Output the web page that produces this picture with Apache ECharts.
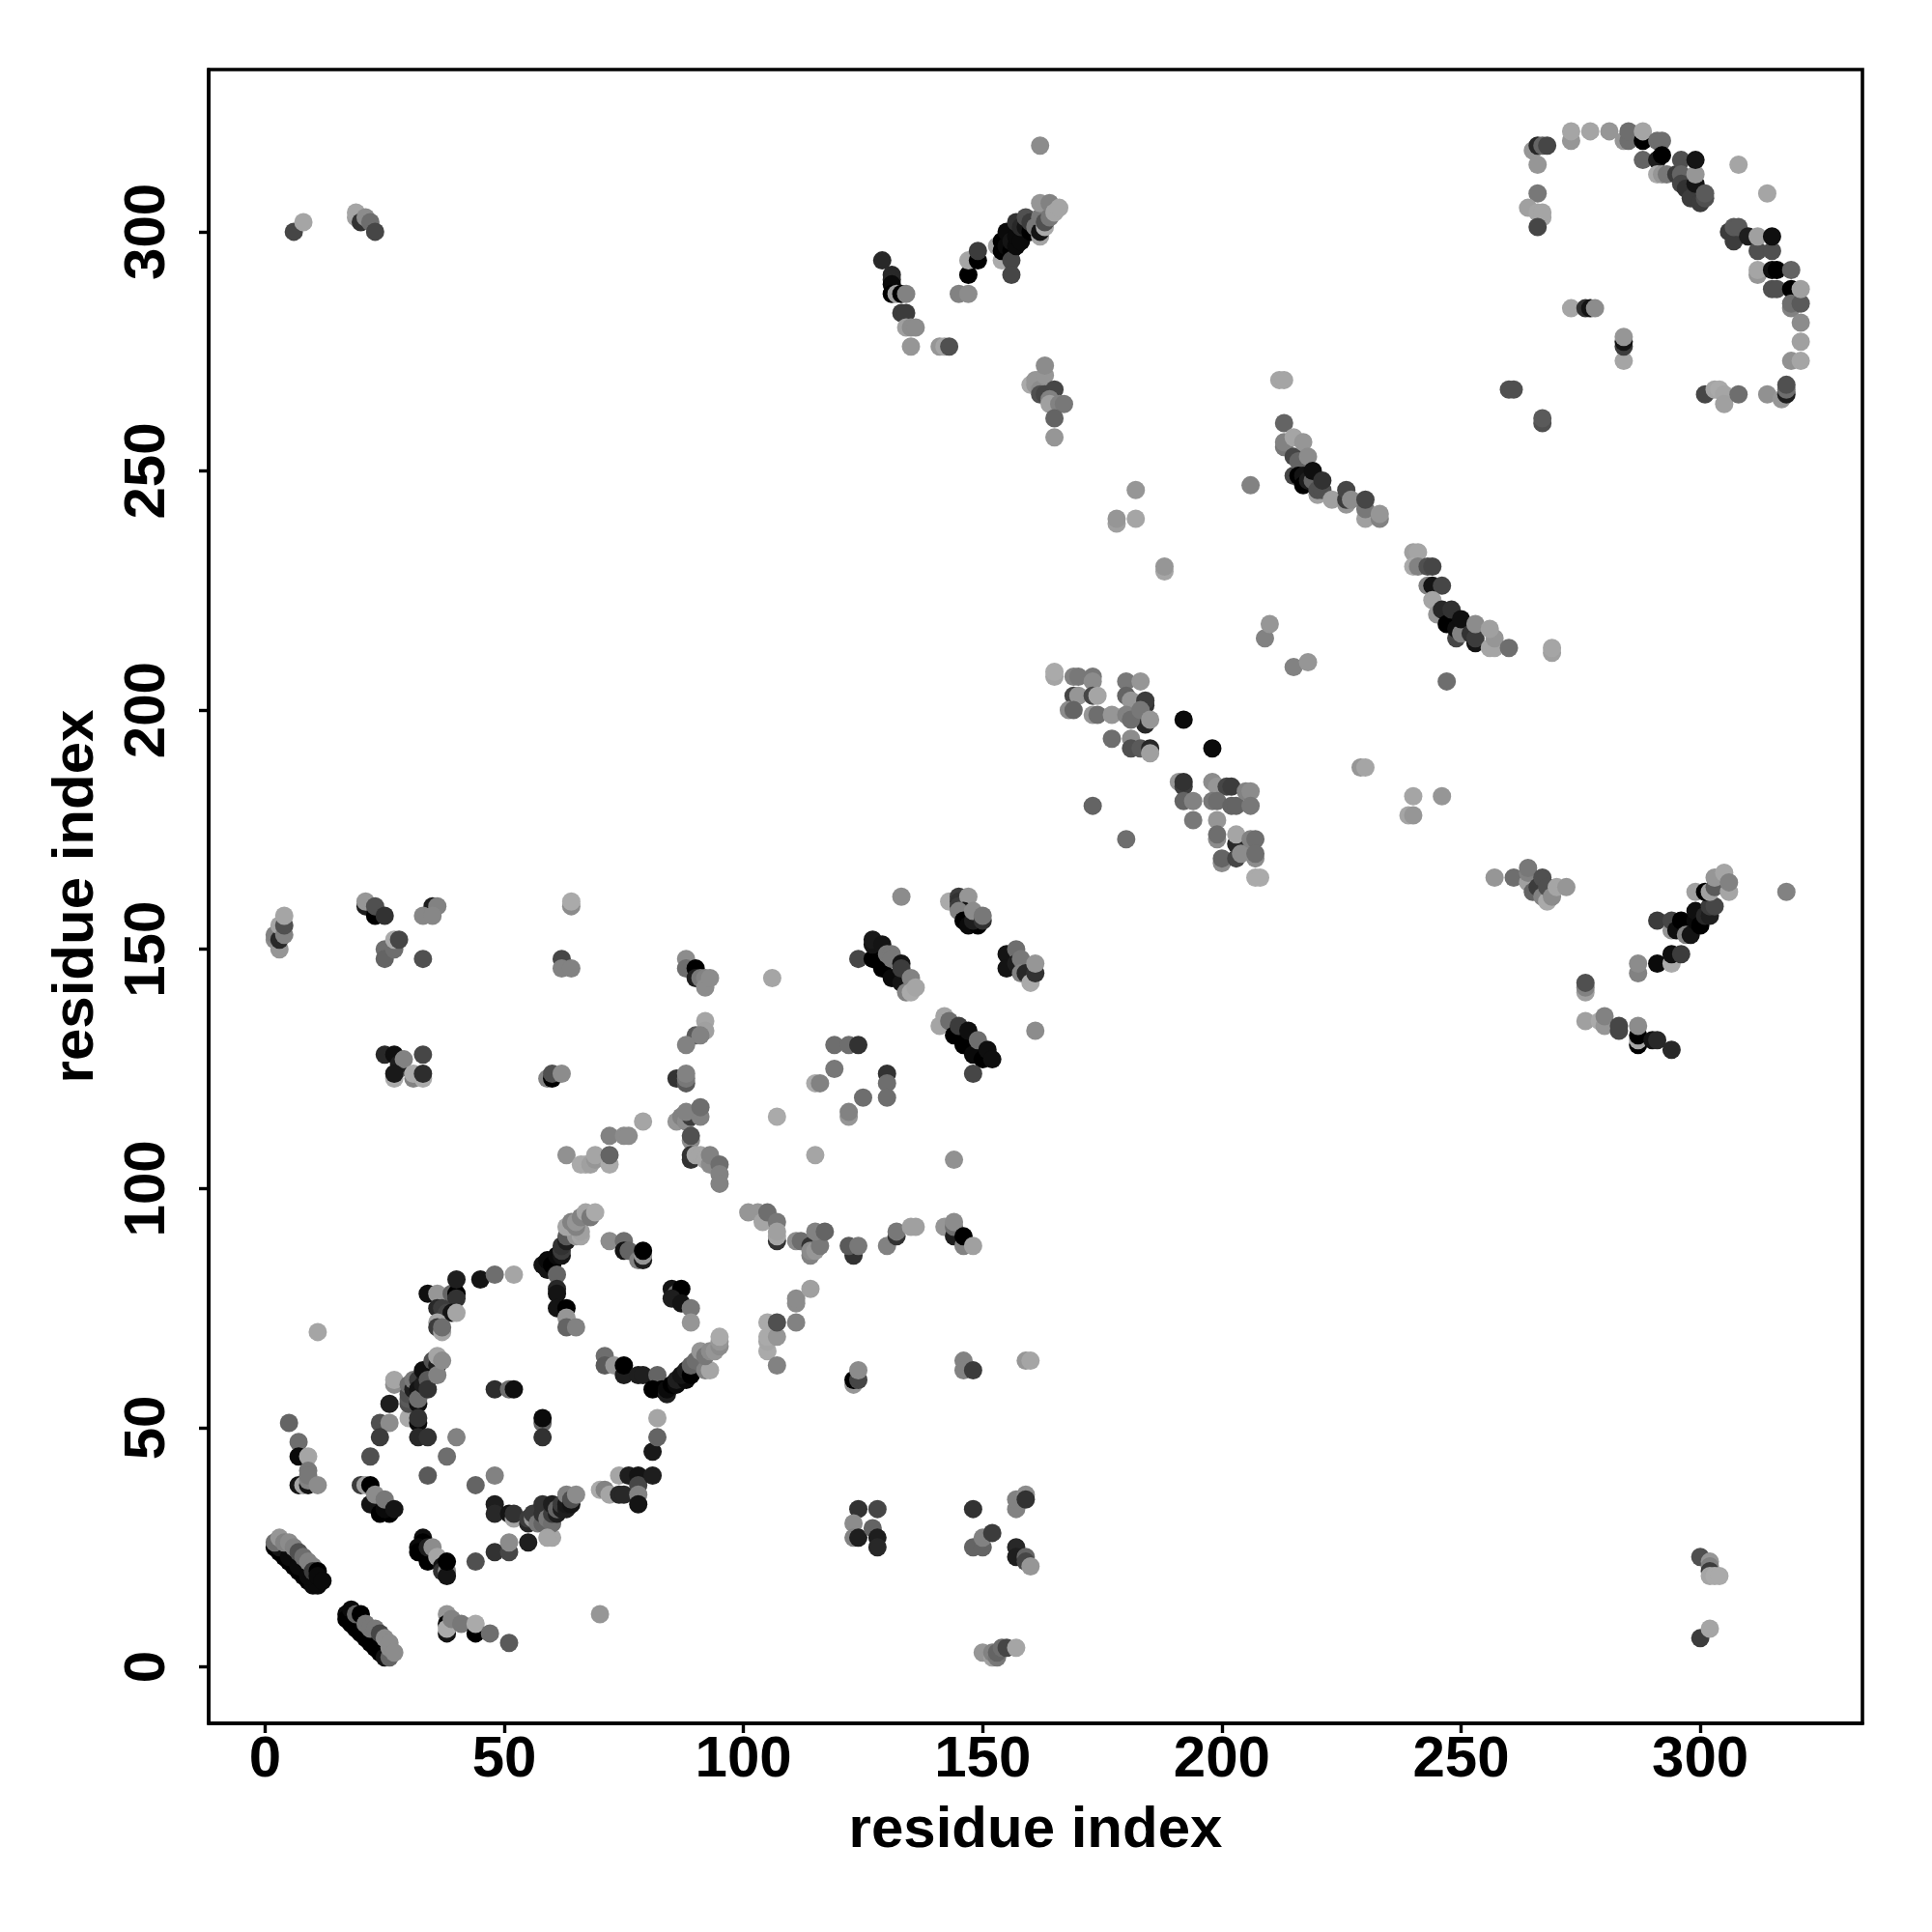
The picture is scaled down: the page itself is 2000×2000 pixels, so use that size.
<!DOCTYPE html>
<html><head><meta charset="utf-8"><style>html,body{margin:0;background:#fff}#c{width:2000px;height:2000px}</style>
<script src="https://cdn.jsdelivr.net/npm/echarts@6/dist/echarts.min.js"></script></head><body><div id="c"></div>
<script>
const tickValues=[0,50,100,150,200,250,300];
const axisTitle='residue index';
// each contact: [residue x, residue y, grey level]
const bandLow=[[2,25,0],[3,24,0],[4,23,0],[5,22,0],[6,21,0],[7,20,0],[8,19,0],[9,18,0],[10,17,10],[11,17,10],[3,25,20],[5,23,10],[7,21,10],[9,19,10],[2,26,110],[3,27,150],[4,26,130],[5,26,140],[6,25,130],[7,24,80],[8,23,110],[9,22,130],[10,21,130],[10,20,60],[11,20,0],[11,19,10],[12,18,10]];
const bandLowMirror=[[17,11,10],[17,10,0],[18,12,10],[18,9,0],[19,8,0],[20,7,0],[21,6,0],[22,5,0],[23,4,0],[24,3,0],[25,2,20],[19,11,100],[20,11,0],[21,9,120],[22,8,120],[23,8,120],[24,7,70],[25,6,140],[26,2,100],[26,4,140],[26,5,140],[27,3,140]];
const nearOrigin=[[38,11,150],[38,9,0],[38,7,20],[38,8,170],[39,10,130],[41,9,120],[44,7,0],[44,9,170],[47,7,110],[51,5,90],[70,11,150]];
const leftColumn=[[5,51,100],[7,47,110],[7,44,10],[9,44,165],[9,41,120],[7,38,20],[8,38,165],[9,38,20],[9,39,130],[9,40,120],[11,38,140],[11,70,165]];
const ringBottomLeft=[[20,38,60],[21,38,160],[22,38,0],[22,34,20],[24,34,20],[24,32,0],[26,32,0],[25,33,10],[23,36,140],[25,35,120],[27,33,20],[33,27,15],[33,26,0],[32,25,10],[32,24,0],[34,22,0],[34,25,30],[35,25,140],[36,23,165],[37,21,20],[37,20,50],[38,20,130],[38,19,20],[38,22,0],[44,22,80],[48,24,50],[51,24,70],[51,26,140],[55,26,30],[60,27,165]];
const ringInner=[[22,44,80],[24,51,80],[26,51,140],[24,48,60],[26,55,30],[34,40,90],[38,44,110],[40,48,130],[44,38,100],[48,40,130],[48,58,45],[51,58,110],[52,58,15],[58,51,100],[58,52,10],[58,48,50]];
const ringLeftArc=[[27,59,140],[27,60,165],[30,52,170],[30,55,80],[30,56,90],[30,57,80],[30,59,110],[31,58,30],[31,60,120],[32,60,60],[32,58,20],[32,55,15],[32,56,110],[32,51,10],[32,52,50],[32,48,40],[34,48,50],[33,59,30],[33,62,15],[34,60,90],[34,58,50],[35,64,80],[36,63,30],[36,61,130],[36,65,165],[37,64,140]];
const ringTopLeft=[[34,78,15],[36,78,150],[39,78,100],[40,78,0],[40,77,50],[40,81,30],[45,81,20],[48,82,110],[52,82,165],[36,75,40],[37,75,60],[38,74,70],[39,74,20],[40,74,165],[36,72,165],[36,71,60],[37,70,165],[37,71,110]];
const ringBottomChain=[[48,34,30],[48,32,40],[51,32,20],[52,31,165],[52,32,50],[55,30,40],[55,31,60],[56,31,150],[56,32,60],[57,30,120],[58,30,100],[58,32,50],[58,34,50],[59,31,120],[60,30,110],[60,32,60],[60,34,30],[61,32,30],[61,33,100],[62,33,30],[62,34,60],[63,33,30],[63,34,25],[63,36,130],[64,34,20],[64,35,80],[65,36,140],[59,27,165],[70,37,170],[71,37,130],[72,36,165],[74,36,40],[75,36,40],[74,40,165],[76,40,30],[78,40,20],[78,38,70],[78,36,130],[78,34,20],[81,40,30],[81,45,25],[82,48,100],[82,52,165]];
const ringTopRight=[[58,84,20],[59,83,20],[59,85,10],[60,84,0],[61,86,10],[62,86,20],[62,87,60],[62,88,50],[63,89,30],[63,90,90],[61,82,100],[61,79,40],[61,78,20],[61,75,20],[63,75,0],[63,73,150],[63,71,100],[65,71,130],[65,90,150],[66,90,165],[66,91,160],[63,92,165],[64,93,130],[65,92,130],[65,93,150],[66,94,130],[67,95,165],[68,94,120],[69,95,170]];
const ringSecond=[[72,89,140],[75,89,110],[75,87,20],[76,87,100],[78,85,130],[79,85,30],[79,86,150],[79,87,0],[85,79,20],[86,78,110],[87,79,0],[85,77,30],[87,76,20],[89,75,120],[89,72,150]];
const ringCurve=[[71,65,110],[71,63,90],[73,63,150],[75,61,30],[75,63,0],[78,61,30],[79,61,30],[82,61,100],[81,58,0],[83,58,0],[84,57,30],[84,58,10],[85,59,0],[86,59,10],[86,60,30],[88,60,10],[87,61,20],[88,62,30],[89,61,0],[89,63,100],[90,64,110],[91,66,150],[92,62,130],[93,62,165],[92,65,120],[93,66,140],[94,66,150],[95,67,140],[95,68,150],[95,69,170]];
const loopColumn=[[101,95,150],[103,95,150],[104,93,165],[105,95,110],[107,89,50],[107,93,120],[107,90,165],[107,91,160],[111,89,140],[112,89,110],[114,88,50],[114,86,130],[114,87,140],[115,87,150],[116,88,120],[115,91,130],[117,91,100],[123,86,50],[122,88,90],[124,88,120],[130,88,130],[132,90,50],[132,91,120],[135,92,160],[136,92,160],[142,92,150],[144,90,30],[144,92,110],[144,93,140],[146,88,130],[146,90,0],[148,88,160]];
const loopBelow=[[105,66,170],[105,68,165],[105,69,170],[105,72,170],[107,63,130],[107,69,150],[107,72,80],[111,72,130],[111,76,140],[111,77,140],[114,79,160],[123,59,150],[123,60,0],[124,60,70],[124,62,140],[146,64,130],[146,62,130],[148,62,60],[159,64,150],[160,64,165]];
const lowerBlocks=[[124,33,50],[128,33,70],[123,30,140],[123,27,130],[124,27,30],[127,29,100],[128,27,30],[128,25,40],[148,33,50],[148,25,100],[150,25,100],[150,27,130],[152,28,60],[157,25,40],[157,23,30],[159,23,100],[159,22,70],[160,21,150],[157,33,130],[157,35,130],[159,36,140],[159,35,50],[150,3,150],[152,2,160],[152,3,130],[153,2,120],[153,3,100],[154,4,110],[155,4,70],[157,4,165]];
const farCorners=[[300,23,80],[302,22,150],[302,21,130],[302,20,60],[302,19,165],[303,19,170],[304,19,170],[300,6,60],[302,8,165],[6,300,70],[8,302,165],[19,303,160],[19,304,165],[20,302,50],[21,303,140],[22,302,110],[23,300,70]];
const upperLeftGroups=[[2,152,140],[2,153,130],[3,150,150],[3,152,40],[3,155,165],[4,153,130],[4,155,80],[4,157,165],[21,159,30],[21,160,150],[23,157,0],[23,159,80],[25,157,50],[35,159,30],[36,159,130],[33,157,135],[35,157,135],[25,150,110],[25,148,100],[27,150,110],[27,152,170],[28,152,70],[33,148,80],[64,159,140],[64,160,170],[62,148,70],[62,146,130],[64,146,130]];
const midLeftGroups=[[25,128,40],[27,128,15],[28,125,100],[28,126,30],[29,127,130],[27,123,170],[27,124,25],[31,123,130],[31,124,170],[33,128,70],[33,123,170],[33,124,45],[59,123,130],[60,123,0],[60,124,80],[62,124,140]];
const midDiagonal=[[63,107,145],[66,105,170],[67,105,170],[68,105,160],[69,106,150],[69,107,165],[72,105,170],[72,107,100],[72,111,130],[75,111,140],[76,111,140],[79,114,165]];
const midColumn=[[88,148,140],[88,146,110],[90,146,0],[90,144,30],[91,144,120],[92,144,130],[92,142,140],[93,144,140],[92,135,165],[92,133,160],[90,132,90],[91,132,130],[88,130,130],[86,123,50],[88,122,90],[88,123,120],[88,124,130],[86,114,150],[87,115,130],[88,114,140],[89,115,60],[88,116,130],[91,115,130],[91,117,110],[89,110,140],[89,111,80],[89,107,50],[89,106,50],[90,107,165],[91,107,165],[92,106,165],[93,105,140],[93,107,130],[95,105,110],[95,103,130],[95,101,130]];
const midSingles=[[106,144,165],[107,115,170],[115,107,165],[144,106,145],[133,161,140],[161,133,140]];
const midCluster=[[119,130,110],[122,130,110],[124,130,50],[119,125,120],[115,122,170],[116,122,130],[125,119,110],[122,115,150],[122,116,130],[130,124,50],[130,122,110],[130,119,110]];
const strandA=[[124,148,70],[127,148,0],[129,146,0],[131,144,10],[133,143,20],[127,151,20],[127,152,25],[129,151,20],[130,149,120],[131,149,120],[131,148,120],[133,147,20],[133,146,60],[134,141,130],[135,144,130],[135,141,170],[136,142,165]];
const strandB=[[143,160,170],[145,161,60],[145,160,50],[145,159,60],[147,161,150],[146,158,20],[145,158,130],[146,156,0],[147,155,10],[149,155,0],[148,156,30],[148,158,140],[150,156,50],[150,157,120]];
const strandC=[[155,149,20],[155,146,20],[157,150,110],[157,147,30],[158,148,120],[158,145,130],[159,145,40],[160,143,170],[161,145,50],[161,147,150]];
const strandD=[[141,134,165],[142,136,165],[143,135,110],[144,132,0],[145,134,60],[146,130,0],[147,133,15],[148,128,10],[149,131,110],[150,127,0],[151,129,15],[152,127,15],[148,124,70]];
const upperHook=[[129,294,40],[131,291,40],[131,290,40],[131,289,10],[131,287,0],[132,287,160],[133,287,0],[134,287,130],[133,283,60],[134,283,60],[134,280,160],[135,280,140],[136,280,140],[135,276,150],[141,276,150],[142,276,165],[143,276,80]];
const upperStrand=[[145,287,130],[147,287,140],[147,291,0],[147,294,165],[149,294,0],[149,296,60],[153,297,165],[154,294,170],[154,296,0],[154,298,0],[155,299,0],[155,297,10],[155,300,10],[156,296,0],[156,298,20],[156,294,70],[156,291,70],[157,297,10],[157,299,10],[157,302,50],[158,298,10],[158,301,40],[159,301,20],[159,303,80],[160,300,0],[160,302,60],[161,301,120],[162,299,165],[162,300,20],[162,303,120],[163,301,170],[163,302,80],[162,306,150],[164,303,120],[164,306,130],[165,304,165],[166,305,165],[162,318,140]];
const upperPatch=[[160,268,170],[161,268,150],[161,269,150],[162,267,140],[162,266,80],[163,266,70],[163,270,150],[163,272,140],[165,267,70],[164,265,130],[164,264,160],[166,264,130],[167,264,120],[165,261,100],[165,257,150]];
const centerPatchTop=[[165,207,165],[165,208,170],[169,207,130],[170,207,120],[173,207,120],[173,206,140],[169,203,70],[170,203,150],[173,203,70],[174,203,165],[168,200,140],[169,200,100],[173,199,150],[174,199,110],[177,199,150],[177,194,110],[181,194,140],[181,192,80],[183,192,90],[185,192,40],[185,191,160],[180,206,120],[183,206,150],[180,203,100],[181,202,150],[184,197,40],[184,201,50],[184,202,60],[180,199,130],[181,198,110],[183,200,120],[185,198,150],[192,198,10],[198,192,10],[173,180,100],[180,173,110]];
const centerPatchLow=[[191,185,150],[192,184,60],[192,185,50],[192,181,100],[194,181,130],[194,177,120],[198,185,140],[199,184,150],[201,184,70],[202,184,60],[198,181,120],[199,181,110],[202,180,100],[203,180,100],[205,183,130],[206,183,140],[206,180,120],[199,177,150],[199,173,140],[199,174,110],[203,172,40],[203,174,165],[200,168,140],[200,169,100],[203,169,70],[204,170,140],[206,173,130],[207,173,110],[207,169,140],[207,170,110],[207,165,170],[208,165,170]];
const sparseMiddle=[[182,246,150],[178,239,160],[178,240,150],[182,240,165],[188,229,165],[188,230,150],[206,247,130],[209,215,130],[210,218,150],[215,209,130],[218,210,150],[247,206,110],[269,212,160],[269,213,165],[229,188,150],[230,188,165],[239,178,165],[240,178,150],[240,182,165],[246,182,150],[212,269,165],[213,269,165],[260,267,80],[261,267,80],[267,260,80],[267,261,90]];
const strandE=[[213,260,100],[213,255,120],[213,256,130],[215,257,165],[215,253,70],[215,249,70],[216,252,100],[216,249,0],[217,249,20],[217,247,0],[217,256,150],[218,248,30],[218,253,140],[219,248,100],[219,250,15],[220,245,160],[220,246,80],[221,246,80],[221,248,50],[223,244,160],[226,243,150],[226,244,60],[226,246,70],[227,244,140],[230,240,160],[230,242,120],[230,244,70],[233,240,130],[233,241,150]];
const strandF=[[240,233,160],[241,233,165],[240,230,170],[241,230,130],[243,230,80],[244,230,70],[243,226,130],[244,226,20],[246,226,70],[244,223,165],[245,220,150],[246,221,40],[247,218,0],[248,221,50],[249,215,70],[249,217,15],[250,216,130],[250,219,15],[252,216,50],[253,214,20],[253,215,60],[253,218,140],[256,213,165],[257,213,165],[257,215,150],[256,217,160],[260,213,110]];
const rightCluster=[[257,165,150],[261,165,110],[264,164,160],[264,166,130],[264,167,120],[265,162,100],[266,163,60],[267,161,130],[267,165,80],[268,160,170],[268,163,80],[269,161,140],[270,163,165],[272,163,150],[318,162,130]];
const rightStrand=[[291,156,60],[294,154,150],[294,156,70],[295,154,15],[296,156,0],[297,153,130],[298,153,20],[299,156,10],[299,158,15],[300,155,0],[301,157,40],[302,157,30],[302,159,60],[303,159,70],[299,162,160],[301,162,0],[302,162,160],[303,163,90],[303,165,150],[305,166,165],[306,162,165],[306,164,130]];
const rightLower=[[287,145,130],[287,147,140],[291,147,10],[294,147,170],[294,149,15],[296,149,60],[276,141,160],[276,142,130],[276,143,80],[276,135,160],[279,135,170],[280,134,150],[280,136,130],[283,133,70],[283,134,70],[287,130,0],[287,131,165],[287,132,0],[287,134,140],[290,131,20],[291,131,40],[294,129,40]];
const arcTop=[[265,317,150],[266,318,40],[267,318,100],[268,318,70],[266,314,150],[266,308,120],[264,305,160],[266,304,165],[267,303,165],[267,304,165],[266,301,70],[273,319,150],[273,321,165],[277,321,165],[281,321,150],[284,319,150],[285,319,110],[285,321,110],[288,319,0],[288,321,165],[288,315,100],[291,319,110],[292,319,110],[291,315,30],[292,316,0],[291,312,170],[292,312,150],[293,312,120],[295,312,60],[296,315,80],[296,312,100],[296,310,70],[297,309,50],[298,307,60],[299,310,20],[299,312,150],[299,315,20],[300,306,60],[301,307,80],[301,308,90],[308,314,165],[314,308,165]];
const arcRight=[[306,300,60],[307,298,60],[307,301,90],[308,301,90],[310,299,30],[312,291,150],[312,292,165],[312,296,80],[312,299,160],[315,292,15],[315,296,80],[315,299,15],[316,292,0],[315,288,80],[316,288,80],[319,292,100],[319,288,0],[319,284,130],[319,285,110],[321,285,90],[321,288,160],[321,281,140],[321,277,160],[319,273,145],[321,273,165]];
const arcBottom=[[301,266,70],[303,267,165],[304,267,170],[305,266,165],[305,264,160],[308,266,110],[314,266,145],[317,265,150],[318,266,30],[318,267,110],[318,268,80]];
const arcInner=[[273,284,165],[276,284,50],[277,284,20],[278,284,140],[284,273,165],[284,276,60],[284,277,20],[284,278,150]];

const contacts=[].concat(bandLow,bandLowMirror,nearOrigin,leftColumn,ringBottomLeft,ringInner,ringLeftArc,ringTopLeft,ringBottomChain,ringTopRight,ringSecond,ringCurve,loopColumn,loopBelow,lowerBlocks,farCorners,upperLeftGroups,midLeftGroups,midDiagonal,midColumn,midSingles,midCluster,strandA,strandB,strandC,strandD,upperHook,upperStrand,upperPatch,centerPatchTop,centerPatchLow,sparseMiddle,strandE,strandF,rightCluster,rightStrand,rightLower,arcTop,arcRight,arcBottom,arcInner);

const chart=echarts.init(document.getElementById('c'),null,{renderer:'canvas'});
const font='"Liberation Sans"';
const axisBase=(margin,rotate,gap,nameRotate)=>({type:'value',min:-11.8,max:333.9,name:axisTitle,nameLocation:'middle',nameGap:gap,nameRotate:nameRotate,
  nameTextStyle:{fontFamily:font,fontWeight:'bold',fontSize:60,color:'#000'},
  splitLine:{show:false},axisLine:{show:true,onZero:false,lineStyle:{color:'#000',width:3.6}},
  axisTick:{show:true,length:10,lineStyle:{color:'#000',width:3.4},customValues:tickValues},
  axisLabel:{fontFamily:font,fontWeight:'bold',fontSize:60,color:'#000',margin:margin,rotate:rotate,customValues:tickValues,formatter:v=>String(v)}});
chart.setOption({animation:false,backgroundColor:'#fff',
  grid:{left:216,top:72,width:1712,height:1712,show:true,borderColor:'#000',borderWidth:3.6,backgroundColor:'#fff'},
  xAxis:axisBase(8,0,81,0),
  yAxis:axisBase(33,90,107,90),
  series:[{type:'scatter',data:contacts,symbol:'circle',symbolSize:19,clip:false,silent:true,encode:{x:0,y:1},
    itemStyle:{opacity:1,color:p=>{const g=p.value[2];return `rgb(${g},${g},${g})`;}}}]});
</script></body></html>
